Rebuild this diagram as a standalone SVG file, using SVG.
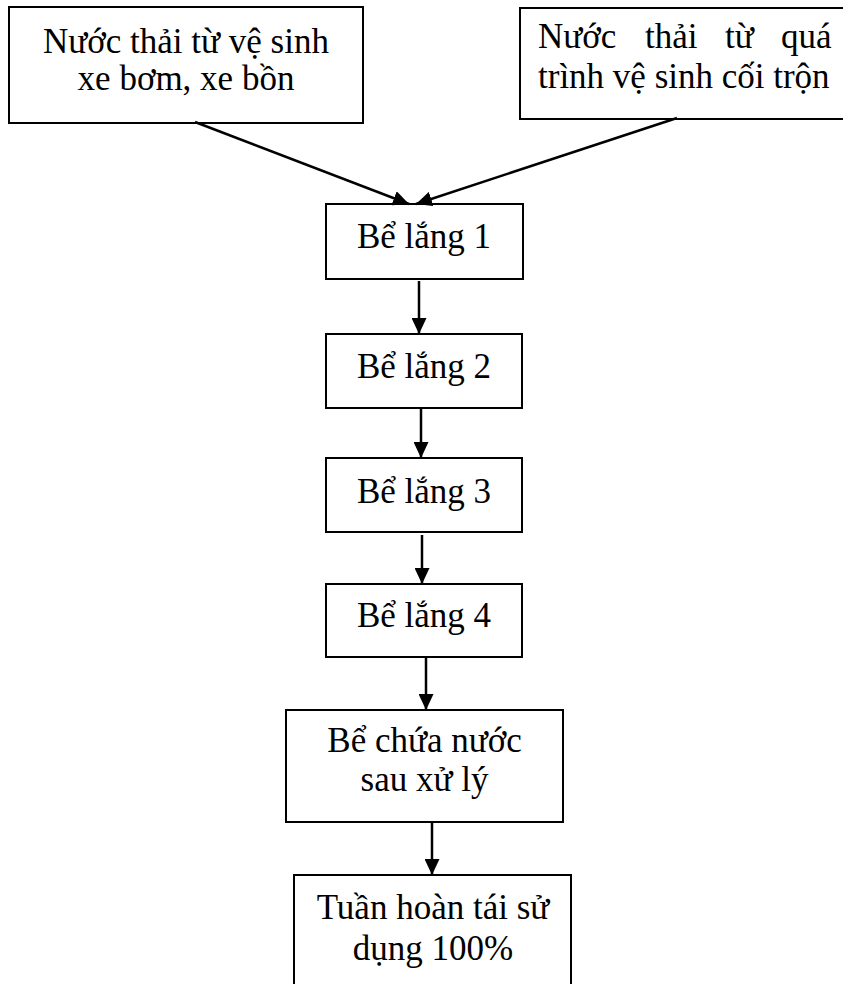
<svg xmlns="http://www.w3.org/2000/svg" width="843" height="984" viewBox="0 0 843 984">
<style>
.box{fill:#fff;stroke:#000;stroke-width:2}
.t{font-family:"Liberation Serif","Times New Roman",serif;font-size:35px;fill:#000}
.c{text-anchor:middle}
.conn{stroke:#000;stroke-width:2.5;fill:none}
</style>
<defs>
<marker id="ah" markerUnits="userSpaceOnUse" markerWidth="16" markerHeight="15" refX="16" refY="7.5" orient="auto">
<path d="M0,0 L16,7.5 L0,15 z" fill="#000"/>
</marker>
</defs>
<rect width="843" height="984" fill="#fff"/>
<g id="n1">
<rect class="box" x="9" y="7" width="354" height="116"/>
<text class="t c" x="186" y="53">Nước thải từ vệ sinh</text>
<text class="t c" x="186" y="90">xe bơm, xe bồn</text>
</g>
<g id="n2">
<rect class="box" x="520" y="8" width="340" height="111"/>
<text class="t" y="48"><tspan x="538">Nước</tspan><tspan x="645">thải</tspan><tspan x="725">từ</tspan><tspan x="781">quá</tspan></text>
<text class="t" x="538" y="88">trình vệ sinh cối trộn</text>
</g>
<g id="n3">
<rect class="box" x="326" y="204" width="197" height="75"/>
<text class="t c" x="424" y="248">Bể lắng 1</text>
</g>
<g id="n4">
<rect class="box" x="326" y="334" width="196" height="74"/>
<text class="t c" x="424" y="378">Bể lắng 2</text>
</g>
<g id="n5">
<rect class="box" x="326" y="458" width="196" height="74"/>
<text class="t c" x="424" y="503">Bể lắng 3</text>
</g>
<g id="n6">
<rect class="box" x="326" y="584" width="196" height="73"/>
<text class="t c" x="424" y="627">Bể lắng 4</text>
</g>
<g id="n7">
<rect class="box" x="286" y="710" width="277" height="112"/>
<text class="t c" x="424.5" y="752">Bể chứa nước</text>
<text class="t c" x="424.5" y="791">sau xử lý</text>
</g>
<g id="n8">
<rect class="box" x="294" y="875" width="277" height="120"/>
<text class="t c" x="433" y="919">Tuần hoàn tái sử</text>
<text class="t c" x="433" y="960">dụng 100%</text>
</g>
<g id="connectors">
<line class="conn" x1="195" y1="122" x2="409" y2="204" marker-end="url(#ah)"/>
<line class="conn" x1="677" y1="118" x2="416" y2="204" marker-end="url(#ah)"/>
<line class="conn" x1="419" y1="281" x2="419" y2="334" marker-end="url(#ah)"/>
<line class="conn" x1="421" y1="409" x2="421" y2="458" marker-end="url(#ah)"/>
<line class="conn" x1="422" y1="535" x2="422" y2="584" marker-end="url(#ah)"/>
<line class="conn" x1="426" y1="658" x2="426" y2="710" marker-end="url(#ah)"/>
<line class="conn" x1="432" y1="823" x2="432" y2="875" marker-end="url(#ah)"/>
</g>
</svg>
